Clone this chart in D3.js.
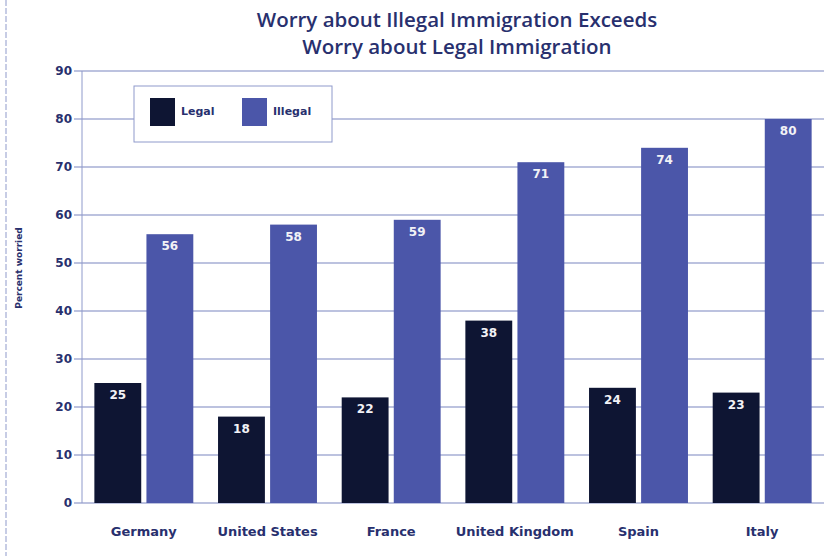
<!DOCTYPE html>
<html>
<head>
<meta charset="utf-8">
<script src="https://cdn.jsdelivr.net/npm/d3@7"></script>
<style>
  body { margin: 0; background: #fff; }
  svg { display: block; }
</style>
</head>
<body>
<svg width="824" height="556"></svg>
<script>
// countries and percent worried
const countries = ['Germany', 'United States', 'France', 'United Kingdom', 'Spain', 'Italy'];
const legal = [25, 18, 22, 38, 24, 23];
const illegal = [56, 58, 59, 71, 74, 80];
const series = ['Legal', 'Illegal'];
const yTicks = [0, 10, 20, 30, 40, 50, 60, 70, 80, 90];

const navy = '#28306e';
const colors = { Legal: '#0e1533', Illegal: '#4b56a9' };

const svg = d3.select('svg');

const x = d3.scaleBand()
    .domain(countries)
    .range([82, 824])
    .paddingInner(0.2)
    .paddingOuter(0.1);

const x1 = d3.scaleBand()
    .domain(series)
    .range([0, x.bandwidth()])
    .paddingInner(0.1);

const y = d3.scaleLinear()
    .domain([0, 90])
    .range([503, 71]);

// faint left page rule
svg.append('line')
    .attr('x1', 6).attr('x2', 6)
    .attr('y1', 0).attr('y2', 556)
    .attr('stroke', '#8f9acb')
    .attr('stroke-dasharray', '6,2');

// gridlines
svg.append('g')
    .selectAll('line')
    .data(yTicks)
    .join('line')
    .attr('x1', 74).attr('x2', 824)
    .attr('y1', d => y(d)).attr('y2', d => y(d))
    .attr('stroke', '#7b86bf')
    .attr('stroke-width', 1.2);

// left axis line
svg.append('line')
    .attr('x1', 82).attr('x2', 82)
    .attr('y1', y(90)).attr('y2', y(0))
    .attr('stroke', '#8f9acb')
    .attr('stroke-width', 1);

// y axis labels
const yAxis = svg.append('g')
    .attr('transform', 'translate(74,0)')
    .call(d3.axisLeft(y).tickValues(yTicks).tickSize(0).tickPadding(2));
yAxis.select('.domain').remove();
yAxis.selectAll('text')
    .attr('font-family', 'Verdana, "DejaVu Sans", sans-serif')
    .attr('font-weight', 'bold')
    .attr('font-size', 12)
    .attr('fill', navy);

svg.append('text')
    .attr('transform', 'translate(22,268) rotate(-90)')
    .attr('text-anchor', 'middle')
    .attr('font-family', 'Verdana, "DejaVu Sans", sans-serif')
    .attr('font-size', 9)
    .attr('font-weight', 'bold')
    .attr('fill', navy)
    .text('Percent worried');

// bars
const rows = countries.map((c, i) => ({ country: c, values: [
    { key: 'Legal', value: legal[i] },
    { key: 'Illegal', value: illegal[i] }
] }));

const groups = svg.append('g')
    .selectAll('g')
    .data(rows)
    .join('g')
    .attr('transform', d => `translate(${x(d.country)},0)`);

groups.selectAll('rect')
    .data(d => d.values)
    .join('rect')
    .attr('x', d => x1(d.key))
    .attr('y', d => y(d.value))
    .attr('width', x1.bandwidth())
    .attr('height', d => y(0) - y(d.value))
    .attr('fill', d => colors[d.key]);

groups.selectAll('text')
    .data(d => d.values)
    .join('text')
    .attr('x', d => x1(d.key) + x1.bandwidth() / 2)
    .attr('y', d => y(d.value) + 16)
    .attr('text-anchor', 'middle')
    .attr('font-family', 'Verdana, "DejaVu Sans", sans-serif')
    .attr('font-weight', 'bold')
    .attr('font-size', 12)
    .attr('fill', '#f2f2f6')
    .text(d => d.value);

// x axis labels
svg.append('g')
    .selectAll('text')
    .data(countries)
    .join('text')
    .attr('x', d => x(d) + x.bandwidth() / 2)
    .attr('y', 536)
    .attr('text-anchor', 'middle')
    .attr('font-family', 'Verdana, "DejaVu Sans", sans-serif')
    .attr('font-weight', 'bold')
    .attr('font-size', 13)
    .attr('fill', navy)
    .text(d => d);

// title
const titleLines = ['Worry about Illegal Immigration Exceeds', 'Worry about Legal Immigration'];
svg.append('g')
    .selectAll('text')
    .data(titleLines)
    .join('text')
    .attr('x', 457)
    .attr('y', (d, i) => 27 + i * 27)
    .attr('text-anchor', 'middle')
    .attr('font-family', '"Open Sans", "Noto Sans", sans-serif')
    .attr('font-weight', 600)
    .attr('font-size', 20.5)
    .attr('fill', navy)
    .text(d => d);

// legend
const legend = svg.append('g').attr('transform', 'translate(134,86)');
legend.append('rect')
    .attr('width', 198).attr('height', 56)
    .attr('fill', '#fff')
    .attr('stroke', '#8f9acb');
const items = legend.selectAll('g')
    .data(series)
    .join('g')
    .attr('transform', (d, i) => `translate(${16 + i * 92},12)`);
items.append('rect')
    .attr('width', 25).attr('height', 28)
    .attr('fill', d => colors[d]);
items.append('text')
    .attr('x', 31).attr('y', 17)
    .attr('font-family', 'Verdana, "DejaVu Sans", sans-serif')
    .attr('font-weight', 'bold')
    .attr('font-size', 11)
    .attr('fill', navy)
    .text(d => d);
</script>
</body>
</html>
